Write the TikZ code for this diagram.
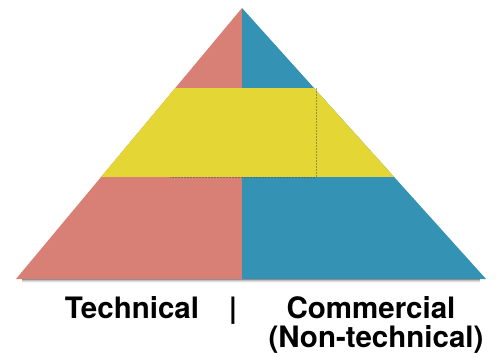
\documentclass[tikz,border=0pt]{standalone}
\usepackage{fontspec}
\setmainfont{TeX Gyre Heros}
\usepackage{tikz}
\usepackage{xcolor}
\definecolor{salmon}{RGB}{216,128,117}
\definecolor{petrol}{RGB}{52,147,180}
\definecolor{amarillo}{RGB}{228,214,52}

\begin{document}
\begin{tikzpicture}[x=1pt,y=-1pt,
    etiqueta/.style={anchor=base, font=\fontsize{29.5}{32}\selectfont\bfseries}]
        % Marco de la figura
        \useasboundingbox (0,0) rectangle (498,358);

        % Parámetros: vértice y base de la pirámide
        \def\xa{242}
        \def\ya{8}
        \def\xl{16}
        \def\xr{486}
        \def\yb{279}
        \coordinate (apex) at (\xa,\ya);
        \coordinate (izq) at (\xl,\yb);
        \coordinate (der) at (\xr,\yb);
        \coordinate (mid) at (\xa,\yb);

        % Sombra bajo la base
        \foreach \d/\o in {1/0.25,2/0.15,3/0.08,4/0.04}
            \fill[black, opacity=\o] (\xl+6,\yb) rectangle (\xr-6,\yb+\d);

        % Mitad técnica y mitad comercial
        \fill[salmon] (apex) -- (izq) -- (mid) -- cycle;
        \fill[petrol] (apex) -- (mid) -- (der) -- cycle;

        % Franja amarilla recortada al triángulo
        \begin{scope}
            \clip (apex) -- (izq) -- (der) -- cycle;
            \fill[amarillo] (0,88) rectangle (498,177);
        \end{scope}

        % Borde punteado de la selección
        \draw[black!70, opacity=0.5, line width=0.5pt, dash pattern=on 2pt off 1pt]
            (316,88) -- (316,177) -- (170,177);

        % Textos
        \node[etiqueta] (tecnico) at (132,318) {Technical};
        \node[etiqueta] (barra) at (233,318) {|};
        \node[etiqueta] (comercial) at (371,318) {Commercial};
        \node[etiqueta] (notecnico) at (376,347) {(Non-technical)};
    \end{tikzpicture}
\end{document}
